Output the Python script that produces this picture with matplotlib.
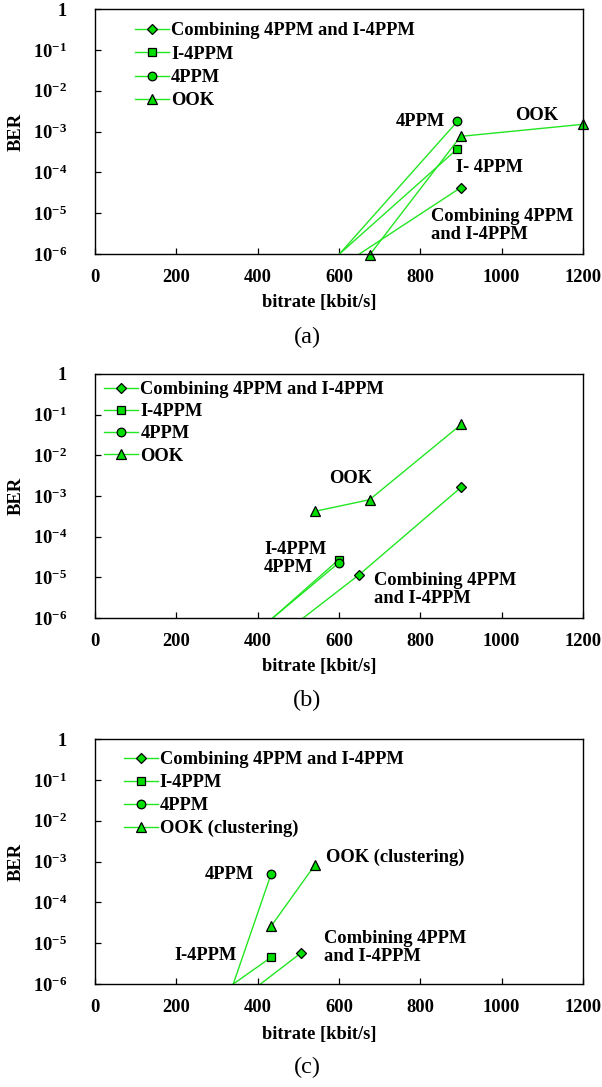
import numpy as np
import matplotlib
matplotlib.use("Agg")
from matplotlib import pyplot as plt
from matplotlib.lines import Line2D

plt.rcParams['font.family'] = ['Liberation Serif', 'DejaVu Serif']
plt.rcParams['font.weight'] = 'bold'
plt.rcParams['mathtext.fontset'] = 'custom'
plt.rcParams['mathtext.rm'] = 'Liberation Serif:bold'
plt.rcParams['mathtext.bf'] = 'Liberation Serif:bold'
plt.rcParams['mathtext.it'] = 'Liberation Serif:bold'

# ---- data (bitrate in kbit/s, BER) ----
# points at exactly 1e-6 are line ends at the bottom of the plot (no marker)
series_names = ['Combining 4PPM and I-4PPM', 'I-4PPM', '4PPM', 'OOK']
series_names_c = ['Combining 4PPM and I-4PPM', 'I-4PPM', '4PPM', 'OOK (clustering)']

# panel (a)
a_comb_x = [650, 899]
a_comb_y = [1.0e-6, 4.2e-5]
a_i4ppm_x = [601, 891]
a_i4ppm_y = [1.0e-6, 3.75e-4]
a_4ppm_x = [601, 891]
a_4ppm_y = [1.0e-6, 1.76e-3]
a_ook_x = [675, 899, 1200]
a_ook_y = [9.4e-7, 7.6e-4, 1.5e-3]

# panel (b)
b_comb_x = [512, 650, 901]
b_comb_y = [1.0e-6, 1.17e-5, 1.66e-3]
b_i4ppm_x = [437, 599]
b_i4ppm_y = [1.0e-6, 2.7e-5]
b_4ppm_x = [437, 599]
b_4ppm_y = [1.0e-6, 2.25e-5]
b_ook_x = [541, 675, 901]
b_ook_y = [4.2e-4, 8.1e-4, 5.8e-2]

# panel (c)
c_comb_x = [407, 507]
c_comb_y = [1.0e-6, 5.8e-6]
c_i4ppm_x = [340, 433]
c_i4ppm_y = [1.0e-6, 4.5e-6]
c_4ppm_x = [340, 433]
c_4ppm_y = [1.0e-6, 4.9e-4]
c_ook_x = [433, 541]
c_ook_y = [2.6e-5, 8.3e-4]

x_ticks = [0, 200, 400, 600, 800, 1000, 1200]
y_ticks = [1e-6, 1e-5, 1e-4, 1e-3, 1e-2, 1e-1, 1]
y_ticklabels = [r'$10^{-6}$', r'$10^{-5}$', r'$10^{-4}$', r'$10^{-3}$',
                r'$10^{-2}$', r'$10^{-1}$', '1']

LINE = '#22e622'
FACE = '#00dd00'
FS = 13.3
MARKERS = ['D', 's', 'o', '^']
SIZES = [4.8, 6.0, 6.2, 6.8]

W, H = 602, 1087
fig = plt.figure(figsize=(W / 100, H / 100), dpi=100)


def px_rect(left, top, right, bottom):
    return [left / W, 1 - bottom / H, (right - left) / W, (bottom - top) / H]


def draw_panel(rect, data, names, legend_anchor, spacing, notes, tag, tag_y, xlabel_y):
    ax = fig.add_axes(rect)
    handles = []
    for (xs, ys), name, m, ms in zip(data, names, MARKERS, SIZES):
        shown = [i for i, v in enumerate(ys) if v != 1.0e-6]
        ax.plot(xs, ys, color=LINE, lw=1.0, marker=m, ms=ms, markevery=shown,
                mfc=FACE, mec='black', mew=0.9, clip_on=False)
        handles.append(Line2D([], [], color=LINE, lw=1.0, marker=m, ms=ms,
                              mfc=FACE, mec='black', mew=0.9, label=name))
    ax.set_yscale('log')
    ax.set_xlim(0, 1200)
    ax.set_ylim(1e-6, 1)
    ax.set_xticks(x_ticks)
    ax.set_yticks(y_ticks)
    ax.set_yticklabels(y_ticklabels)
    ax.minorticks_off()
    ax.tick_params(direction='in', length=4, width=0.9, labelsize=FS)
    ax.tick_params(axis='x', pad=11)
    ax.tick_params(axis='y', pad=20)
    for s in ax.spines.values():
        s.set_linewidth(1.0)
    ax.set_ylabel('BER', fontsize=FS, fontweight='bold', labelpad=6)
    ax.legend(handles=handles, loc='upper left', bbox_to_anchor=legend_anchor,
              frameon=False, fontsize=FS, handlelength=1.85,
              handletextpad=0.1, labelspacing=spacing, borderpad=0,
              borderaxespad=0)
    for txt, x, y, ha in notes:
        ax.text(x, y, txt, ha=ha, va='center', fontsize=FS,
                fontweight='bold', linespacing=1.05)
    fig.text(319 / W, 1 - xlabel_y / H, 'bitrate [kbit/s]', ha='center',
             va='center', fontsize=FS, fontweight='bold')
    fig.text(307 / W, 1 - tag_y / H, tag, ha='center', va='center',
             fontsize=17.5, fontweight='normal')
    return ax


draw_panel(px_rect(95, 9, 583, 254),
           [(a_comb_x, a_comb_y), (a_i4ppm_x, a_i4ppm_y),
            (a_4ppm_x, a_4ppm_y), (a_ook_x, a_ook_y)],
           series_names, (0.082, 0.945), 0.34,
           [('4PPM', 860, 1.75e-3, 'right'),
            ('OOK', 1086, 2.4e-3, 'center'),
            ('I- 4PPM', 888, 1.3e-4, 'left'),
            ('Combining 4PPM\nand I-4PPM', 826, 5e-6, 'left')],
           '(a)', 337, 303)

draw_panel(px_rect(95, 374, 583, 618),
           [(b_comb_x, b_comb_y), (b_i4ppm_x, b_i4ppm_y),
            (b_4ppm_x, b_4ppm_y), (b_ook_x, b_ook_y)],
           series_names, (0.019, 0.971), 0.28,
           [('OOK', 628, 2.7e-3, 'center'),
            ('I-4PPM\n4PPM', 416, 2.9e-5, 'left'),
            ('Combining 4PPM\nand I-4PPM', 685, 5e-6, 'left')],
           '(b)', 700, 667)

draw_panel(px_rect(95, 739, 583, 984),
           [(c_comb_x, c_comb_y), (c_i4ppm_x, c_i4ppm_y),
            (c_4ppm_x, c_4ppm_y), (c_ook_x, c_ook_y)],
           series_names_c, (0.059, 0.95), 0.32,
           [('4PPM', 391, 4.7e-4, 'right'),
            ('OOK (clustering)', 569, 1.26e-3, 'left'),
            ('I-4PPM', 349, 4.9e-6, 'right'),
            ('Combining 4PPM\nand I-4PPM', 562, 7.8e-6, 'left')],
           '(c)', 1067, 1035)

fig.savefig('out.png', dpi=100)
